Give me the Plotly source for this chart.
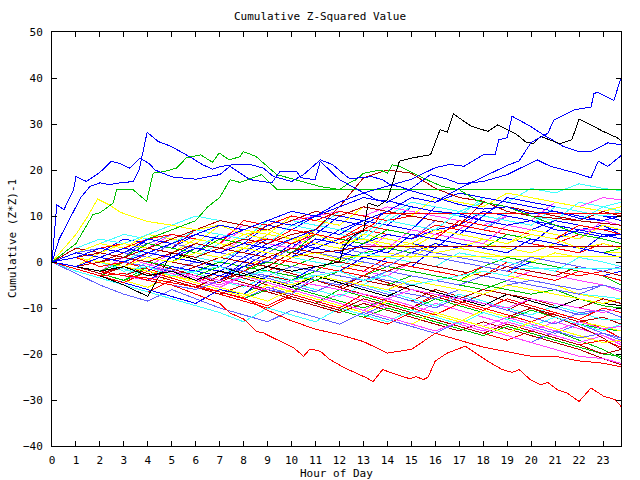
import plotly.graph_objects as go

# ---------------- data ----------------
HOURS = [0, 1, 2, 3, 4, 5, 6, 7, 8, 9, 10, 11, 12, 13, 14, 15, 16, 17, 18, 19, 20, 21, 22, 23, 23.75]
HOUR_TICKS = list(range(24))
Y_TICKS = [-40, -30, -20, -10, 0, 10, 20, 30, 40, 50]

PALETTE = {
    "red": "#ff0000", "green": "#00c000", "blue": "#0000ff", "magenta": "#ff40ff",
    "cyan": "#40ffff", "darkred": "#b00000", "yellow": "#ffff00", "black": "#000000",
    "slate": "#6060ff",
}

# background series, values at HOURS
b01_red = [0, -1.5, -3, 0, -1.5, -3, -4.5, -2, -3.5, -5, -6.5, -4, -5.5, -7, -8.5, -10, -7, -8.5, -10, -11.5, -13, -11, -12.5, -14.5, -16.5]
b02_green = [0, -1, -2.5, -4, -1, -2.5, -4, -5.5, -7, -4, -5.5, -7, -8.5, -10, -8, -9.5, -11, -12.5, -14, -12, -13.5, -15, -17, -19, -21]
b03_blue = [0, 3, 2, 1, 4, 3, 2, 6, 5, 4, 3, 7, 6, 5, 9, 8, 7, 6, 10, 9, 8, 12, 11, 10, 10]
b04_magenta = [0, -1.5, -3, -1, -2.5, -4, -5.5, -3, -4.5, -6, -7.5, -9, -7, -8.5, -10, -11.5, -9, -10.5, -12, -13.5, -15, -13, -14.5, -16, -17.5]
b05_cyan = [0, 2, 1, 0, 3, 2, 1, 4, 3, 2, 5, 4, 3, 7, 6, 5, 9, 8, 7, 11, 10, 9, 13, 12, 13]
b06_darkred = [0, -1, -2, 1, 0, -1.5, -3, -4.5, -2, -3.5, -5, -6.5, -4, -5.5, -7, -8.5, -6, -7.5, -9, -10.5, -8, -9.5, -11, -12.5, -12.5]
b07_yellow = [0, 3, 2, 1, 4, 3, 2, 5, 4, 3, 2, 5, 4, 3, 2, 1, 4, 3, 2, 1, 0, 2, 1, 0, -1]
b08_slate = [0, -1.5, -3, -4.5, -2, -3.5, -5, -6.5, -8, -5.5, -7, -8.5, -10, -11.5, -9, -10.5, -12, -13.5, -11, -12.5, -14, -15.5, -13.5, -15.5, -17]
b09_red = [0, 3, 2, 5, 4, 3, 7, 6, 5, 8, 7, 6, 10, 9, 8, 7, 6, 8, 7, 6, 5, 4, 6, 5, 4]
b10_green = [0, -1.5, -3, -1, -2.5, -4, -5.5, -3, -4.5, -6, -7.5, -9, -6, -7.5, -9, -10.5, -8, -9.5, -11, -12.5, -10.5, -12, -13.5, -14.5, -15]
b11_blue = [0, 3, 2, 5, 4, 3, 6, 5, 4, 8, 7, 6, 10, 9, 8, 12, 11, 10, 9, 8, 7, 9, 8, 7, 7]
b12_magenta = [0, 2, 1, 0, -1, 2, 1, 0, -1, -2, 1, 0, -1, -2, -3, 0, -1, -2, -3, -4, -2, -3, -4, -5, -6.5]
b13_cyan = [0, -1, -2, -3, 0, -1, -2, -3, -4, -1, -2, -3, -4, -5, -2, -3, -4, -5, -6, -4, -5, -6, -7, -7.5, -8]
b14_darkred = [0, 1, 0, -1, -2, -3, -1, -2, -3.5, -5, -6.5, -4, -5.5, -7, -8.5, -10, -7.5, -9, -10.5, -12, -10, -11.5, -13, -12, -13.5]
b15_yellow = [0, -1, -2.5, -4, -5.5, -3, -4.5, -6, -7.5, -5, -6.5, -8, -9.5, -11, -8.5, -10, -11.5, -13, -10.5, -12, -13.5, -15, -13, -14, -15]
b16_slate = [0, 2, 4, 3, 2, 1, 4, 3, 2, 6, 5, 4, 3, 7, 6, 5, 9, 8, 7, 10, 9, 8, 7, 8, 7]
b17_red = [0, -2, -3.5, -5, -6.5, -4, -5.5, -7, -8.5, -10, -7.5, -9, -10.5, -12, -13.5, -11, -12.5, -14, -15.5, -17, -15, -16.5, -18, -17, -18.5]
b18_green = [0, 2, 3, 2, 1, 0, 3, 2, 1, 0, -1, -2, 1, 0, -1, -2, -3, -4, -1, -2, -3, -4, -2, -3, -5]
b19_blue = [0, -1, -2, -3, -4, -2, -3, -4, -1, 0, 3, 2, 1, 4, 3, 2, 1, 0, -1, -2, 0, -1, -2, -3, -2]
b20_magenta = [0, 3, 5, 4, 3, 6, 5, 4, 7, 6, 5, 4, 3, 2, 6, 5, 8, 7, 11, 10, 9, 13, 12, 14, 13.5]
b21_cyan = [0, 1, 0, -1.5, -3, -1, -2.5, -4, -5.5, -3, -4.5, -6, -7.5, -5, -6.5, -8, -9.5, -7, -8.5, -10, -11.5, -9.5, -11, -12.5, -12.5]
b22_darkred = [0, -1.5, -3, -1, -2.5, -4, -5.5, -7, -5, -6.5, -8, -9.5, -11, -9, -10.5, -12, -13.5, -15, -13, -14.5, -16, -17.5, -19, -21, -22.3]
b23_yellow = [0, 2, 1, 0, 3, 2, 1, 0, -1, 1, 0, -1, -2, 0, -1, -2, -3, -4, -2, -3, -4, -5, -7, -8, -9]
b24_slate = [0, -1, -2, 1, 0, -1, -2, -3, -1, -2, -3, -4, -5, -3, -4, -5, -6.5, -8, -9.5, -7, -8.5, -10, -11.5, -10.5, -12]
b25_red = [0, 2, 3, 4, 3, 2, 1, 0, -1, -2, 1, 0, -1, -2, 1, 0, -1, -2, -3, 0, -1, -2, -3, -2, -3]
b26_green = [0, -1, -2.5, -4, -2, -3.5, -5, -6.5, -8, -6, -7.5, -9, -10.5, -12, -10, -11.5, -13, -14.5, -16, -14, -15.5, -17, -18.5, -20, -20.5]
b27_blue = [0, 3, 2, 1, 5, 4, 3, 2, 1, 0, 4, 3, 2, 1, 0, -1, 3, 7, 6, 5, 4, 3, 2, 6, 5]
b28_magenta = [0, -1.5, -3, -4.5, -2, -3.5, -5, -6.5, -8, -9.5, -7, -8.5, -10, -11.5, -13, -10.5, -12, -13.5, -15, -13, -14.5, -16, -17.5, -16, -18]
b29_cyan = [0, 2, 4, 6, 5, 4, 7, 6, 5, 9, 8, 7, 11, 10, 9, 12, 11, 10, 14, 13, 16, 15, 17, 16, 15.5]
b30_darkred = [0, 2, 3, 2, 1, 0, -1, -2, -3, -1, -2.5, -4, -5.5, -3, -4.5, -6, -7.5, -9, -7, -8.5, -10, -12, -14, -16.5, -19]
b31_yellow = [0, -1, 2, 1, 3, 5, 4, 3, 6, 5, 4, 7, 6, 5, 4, 3, 6, 5, 4, 3, 2, 4, 3, 2, 2]
b32_slate = [0, -2.5, -5, -7, -8.5, -6, -8, -10, -11.5, -13, -10.5, -12, -13.5, -11, -12.5, -14, -15.5, -13, -14.5, -16, -17.5, -15, -16.5, -15.5, -16.5]
b33_red = [0, 3, 2, 1, 4, 3, 2, 1, 0, 3, 2, 5, 4, 7, 6, 5, 8, 7, 6, 5, 4, 3, 2, 4, 3]
b34_green = [0, 1, 2, 1, 0, -1, -2, 0, -1, -2, -3, -4, -2, -3, -1, -2, -3, -4, -5, -6, -7, -6, -8, -9.5, -10]
b35_blue = [0, -1.5, -3, -4.5, -6, -7.5, -9, -6, -7, -3, -4, -1, -2, 1, 3, 2, 4, 3, 5, 4, 6, 5, 7, 8, 6]
b36_magenta = [0, 2, 4, 3, 5, 4, 6, 5, 8, 7, 9, 10, 11, 10, 12, 11, 10, 9, 8, 10, 9, 8, 7, 7, 6]
b37_cyan = [0, -2, -3.5, -5, -6.5, -8, -9.5, -11, -13, -10, -11.5, -13, -10, -11.5, -13, -10.5, -12, -13.5, -11, -12.5, -14, -12, -13.5, -15, -13.5]
b38_darkred = [0, -1, -2.5, -1, -2.5, -4, -5.5, -3, -4.5, -6, -7.5, -9, -10.5, -8, -9.5, -11, -12.5, -14, -15.5, -13.5, -15, -16.5, -18, -20, -19]
b39_yellow = [0, 2, 4, 3, 6, 5, 4, 8, 7, 6, 10, 9, 8, 12, 11, 10, 14, 13, 12, 15, 14, 13, 12, 11, 12]
b40_slate = [0, 2, 1, 0, -1, -2, -3, -1, -2, -3.5, -5, -6.5, -4, -5.5, -7, -8.5, -10, -7.5, -9, -10.5, -12, -13.5, -11, -10.5, -12]
b41_blue = [0, 2, 3, 2, 1, 0, -1, -2, 1, 4, 7, 10, 9, 8, 11, 14, 13, 15, 14, 13, 12, 11, 10, 9, 8]
b42_blue = [0, -1, -2, -3, -1, -2, -3, -4, 0, 3, 2, 4, 7, 9, 8, 7, 12, 11, 10, 14, 13, 12, 11, 10, 9]
b43_blue = [0, -1, -2, -3, -4, -1, -2, -3, -1, 2, 1, 3, 5, 4, 6, 5, 7, 8, 11, 10, 9, 8, 7, 6, 5]
b44_red = [0, -1.5, -3, -4.5, -2, -3.5, -5, -6.5, -8, -9.5, -7, -8.5, -10, -7, -8.5, -10, -11.5, -9, -10.5, -8, -9.5, -11, -12.5, -10, -11]
b45_black = [0, -1.5, -3, -5, -7.5, 2, 0.5, -1, -2.5, -4, -5.5, -3, -4.5, -6, -7.5, -5, -6.5, -8, -9.5, -7, -8.5, -10, -8, -9, -9.5]
b46_magenta = [0, -1, -2, 1, -0.5, -2, -3.5, -5, -3, -4.5, -6, -7.5, -9, -10.5, -8, -9.5, -11, -12.5, -14, -12, -13.5, -15, -13, -14.5, -14]
b47_cyan = [0, 3, 5, 4, 6, 8, 10, 9, 8, 7, 9, 8, 7, 6, 10, 13, 12, 11, 13, 12, 11, 10, 9, 12, 11]
b48_green = [0, 2, 1, 0, -1, -2, -3, -4, -2, 0, -1, 1, 0, 2, 3, 2, 1, 0, -1, 1, 0, -1, -2, -3, -4]
b49_yellow = [0, -1, -2, -3, -1, -2.5, -4, -5.5, -7, -8.5, -6, -7.5, -9, -10.5, -12, -13.5, -11, -12.5, -14, -15.5, -13, -14.5, -16, -17.5, -17]
b50_slate = [0, 2, 3, 2, 4, 6, 5, 4, 3, 2, 5, 4, 3, 2, 1, 3, 2, 1, 0, -1, 1, 0, -1, -2, -3]
b51_red = [0, 2, 1, 3, 5, 6, 5, 4, 9, 8, 10, 9, 11, 10, 9, 10, 9, 8, 7, 6, 5, 4, 6, 5, 4]
b52_magenta = [0, -1, -2, -3, -1, -2.5, -4, -5.5, -3, -4.5, -6, -7.5, -9, -10.5, -12, -13.5, -15, -13, -14.5, -16, -17.5, -19, -20.5, -21, -22]
b53_darkred = [0, 3, 2, 4, 3, 5, 7, 9, 8, 7, 9, 11, 10, 12, 11, 10, 9, 8, 13, 12, 11, 10, 9, 11, 10]
b54_slate = [0, -1, -2, -3, -4, -5, -6, -4, -5, -6, -7, -3, -4, -5, -6, -7, -8, -6, -7, -5, -4, -5, -6, -5, -6]
c01_red = [0, 1, 0, -1, 2, 1, 0, -1, -2, 1, 0, -1, -2, -3, 0, -1, -2, -3, -1, -2, -3, -4, -2, -3, -4]
c02_green = [0, -1, -2, 0, -1, -2, -3, -1, -2, -3, -4, -2, -3, -4, -5, -3, -4, -5, -6, -4, -5, -6, -7, -5, -6]
c03_blue = [0, 2, 1, 3, 2, 1, 4, 3, 2, 5, 4, 3, 2, 6, 5, 4, 3, 7, 6, 5, 4, 8, 7, 6, 6]
c04_magenta = [0, 1, 3, 2, 1, 4, 3, 2, 5, 4, 3, 6, 5, 4, 3, 7, 6, 5, 4, 8, 7, 6, 5, 9, 8]
c05_cyan = [0, 2, 1, 0, 3, 2, 1, 0, 3, 2, 1, 0, -1, 2, 1, 0, -1, 2, 1, 0, -1, -2, 1, 0, -1]
c06_darkred = [0, -1, -2, -3, -1, -2, -3, -4, -2, -3, -4, -5, -6, -4, -5, -6, -7, -8, -6, -7, -8, -9, -10, -8, -9]
c07_yellow = [0, 1, 2, 4, 3, 2, 5, 4, 3, 6, 5, 4, 3, 6, 5, 4, 7, 6, 5, 4, 7, 6, 5, 8, 7]
c08_slate = [0, -1, 1, 0, -1, -2, 0, -1, -2, -3, -1, -2, -3, -4, -2, -3, -4, -5, -3, -4, -5, -6, -7, -5, -6]
c09_red = [0, 2, 1, 3, 2, 4, 3, 6, 5, 4, 7, 6, 5, 8, 7, 6, 5, 9, 8, 7, 6, 5, 8, 7, 6]
c10_green = [0, 1, 2, 1, 4, 3, 2, 5, 4, 3, 2, 6, 5, 4, 7, 6, 5, 4, 3, 6, 5, 4, 3, 2, 3]
c11_magenta = [0, -1, -2, -3, -4, -2, -3, -4, -5, -6, -4, -5, -6, -7, -8, -6, -7, -8, -9, -10, -8, -9, -10, -11, -10]
c12_cyan = [0, 1, 3, 2, 5, 4, 3, 6, 5, 4, 8, 7, 6, 5, 9, 8, 7, 11, 10, 9, 8, 12, 11, 10, 11]
c13_blue = [0, -1, 0, -1, -2, 1, 0, -1, 3, 2, 1, 5, 4, 3, 2, 6, 5, 4, 3, 2, 5, 4, 3, 2, 1]
c14_darkred = [0, 1, 0, 2, 1, 0, -1, 1, 0, -1, 2, 1, 0, -1, -2, 0, -1, -2, -3, -1, -2, -3, -1, -2, -3]
c15_yellow = [0, -1, -2, -1, -2, -3, -4, -2, -3, -4, -5, -3, -4, -5, -6, -4, -5, -6, -7, -5, -6, -7, -8, -9, -8]
c16_slate = [0, 2, 3, 2, 1, 4, 3, 2, 1, 0, 3, 2, 1, 0, -1, 2, 1, 0, -1, -2, 1, 0, -1, -2, -1]
red_2 = [0, -1, -2, -3, -3.5, -4.5, -5.5, -6.5, -7.8, -10.5, -12.8, -14.6, -15.8, -17.3, -19.8, -19, -15.5, -17, -18.5, -19.5, -20.5, -20.5, -21.5, -22, -22.8]
darkred_hi = [0, 1, 2, 1, 3, 2, 4, 3, 5, 4, 6, 7, 12, 18.3, 20, 19.3, 16, 14, 13.2, 11, 10, 9.5, 9, 8.5, 8]

# distinctive series with their own sample hours
black_big_x = [0, 1, 2, 3, 4, 5, 6, 7, 8, 9, 10, 11, 12, 12.2, 12.6, 13, 13.2, 13.6, 14, 14.5, 15, 15.8,
               16.2, 16.5, 16.75, 17.5, 18.2, 18.6, 19.4, 19.8, 20.1, 20.4, 21.2, 21.7, 22, 22.6, 23, 23.6, 23.75]
black_big_y = [0, -1, -2, -1, -3, -2, -4, -2, -3, -1, -2, -1, 0, 3.4, 5.9, 6.7, 12.8, 12.1, 13.5, 21.9, 22.6, 23.3,
               28.8, 28.2, 32.2, 29.5, 28.4, 29.8, 27.7, 26, 25.8, 27.3, 25.7, 26.6, 31.1, 29.5, 28.4, 27, 26.3]
red_low_x = [0, 1, 2, 3, 4, 5, 6, 7, 7.43, 8, 8.54, 8.82, 9.24, 10.1, 10.5, 10.77, 11.2, 11.6, 12.2, 12.7, 13.14, 13.4,
             13.8, 14.4, 14.95, 15.2, 15.5, 15.7, 16, 16.5, 17.25, 17.6, 18.2, 18.8, 19.2, 19.5, 19.97, 20.4, 20.7,
             21.1, 21.5, 22, 22.5, 23.03, 23.5, 23.75]
red_low_y = [0, -1.5, -3, -2.5, -4, -5, -7, -9, -11.1, -12.4, -15.1, -15.4, -16.5, -18.7, -20.5, -18.9, -19.4, -21.2,
             -23, -24.1, -25.2, -26, -23.4, -24.5, -25.4, -24.9, -25.6, -25, -21.5, -19.8, -18.3, -19.5, -21.6, -23.4,
             -24, -23.4, -25.6, -26.7, -26.2, -27.8, -28.5, -30.3, -27.4, -29.2, -29.9, -31.4]
blue_a_x = [0, 1, 2, 3, 4, 5, 6, 7, 8, 9, 10, 11, 12, 13, 14, 15, 16, 17, 18, 19,
            19.5, 20, 20.7, 20.95, 21.4, 21.8, 22.5, 22.62, 22.76, 23.45, 23.75]
blue_a_y = [0, -1, 1, 0, 2, 1, 3, 2, 4, 3, 5, 7, 6, 9, 11, 14, 13, 16, 18.5, 21,
            22, 26, 28, 30.9, 32, 33.1, 33.7, 36.6, 36.9, 35.1, 40]
blue_b_x = [0, 0.3, 0.7, 1.2, 1.58, 2, 2.4, 2.83, 3.4, 3.64, 3.97, 4.43, 4.99, 5.62, 5.9, 6.3, 6.7, 7.08, 7.5, 8.27,
            8.82, 9.24, 10, 10.5, 11.2, 11.7, 12, 12.4, 13, 13.3, 13.8, 14.1, 14.5, 15, 16, 17, 18, 19, 20, 21, 22, 23, 23.75]
blue_b_y = [0, 5, 9, 14, 16.4, 17.2, 16.8, 17.2, 17.5, 20.1, 28.2, 26.2, 25.1, 23.3, 22.4, 21.1, 20.2, 20.8, 21.1, 21.2,
            20.4, 18.6, 17.5, 19, 22.2, 21.2, 20, 18.2, 18.3, 18.6, 17.9, 16.8, 16.4, 15.5, 14, 12.5, 11.5, 12, 10.5, 11, 9.5, 9, 10]
blue_c_x = [0, 1, 2, 3, 4, 5, 6, 7, 8, 9, 10, 11, 12, 13, 14, 15, 16,
            16.6, 17.2, 18, 18.5, 18.65, 19, 19.2, 19.97, 20.5, 21.35, 22, 22.5, 23.2, 23.75]
blue_c_y = [0, 1, 3, 2, 5, 4, 6, 8, 7, 9, 11, 10, 13, 15, 16.5, 18, 20.5,
            21.2, 20.8, 23.3, 23.3, 26.6, 27, 31.7, 29.5, 27.7, 25.1, 24, 24, 25.9, 25.5]
blue_d_x = [0, 1, 2, 3, 4, 5, 6, 7, 8, 9, 10, 11, 12, 13, 14, 15,
            15.8, 16.5, 17, 18, 19, 19.4, 20.25, 20.8, 21.9, 22.5, 22.8, 23.2, 23.75]
blue_d_y = [0, 2, 1, 3, 2, 4, 6, 5, 7, 9, 8, 10, 12, 14, 13, 16,
            19, 18, 17, 17.5, 19, 20, 22.2, 20.8, 19.3, 18.3, 21.9, 20.8, 23.1]
blue_e_x = [0, 0.2, 0.5, 0.9, 1, 1.44, 2, 2.48, 2.83, 3.25, 3.67, 4.08, 4.3, 5, 6, 7, 7.43, 8.27, 9.17, 9.52,
            10.2, 10.4, 10.98, 11.2, 12, 12.4, 13, 13.56, 14.1, 15, 16, 17, 18, 19, 20, 21, 22, 23, 23.75]
blue_e_y = [0, 12.4, 11.4, 15.7, 18.6, 17.5, 19.5, 21.9, 21.4, 20.4, 22.6, 21.3, 20, 18.5, 18, 19, 20.8, 17.9, 17.2, 19.7,
            19.7, 18.3, 17.9, 21.9, 17.9, 16.8, 15, 13.5, 13.2, 12, 11, 10.5, 9, 8, 9, 7, 6.5, 5.5, 6]
green_b_x = [0, 0.5, 1, 1.71, 2, 2.55, 2.7, 3.39, 3.95, 4.22, 4.7, 5.2, 5.6, 5.83, 6.2, 6.7, 6.98, 7.4, 7.85, 7.98,
             8.5, 9.38, 9.9, 11.2, 11.6, 12, 12.4, 12.7, 13, 13.7, 14, 14.2, 14.5, 15.2, 15.8, 16.3, 17, 17.7, 18, 19,
             20, 21, 22, 23, 23.75]
green_b_y = [0, 2, 4, 10.3, 10.7, 12.8, 15.7, 15.7, 13.2, 19.3, 19.7, 20.4, 22.6, 22.9, 23.3, 21.7, 23.7, 22.2, 22.9, 24,
             23, 19, 18.3, 16.4, 16.1, 15.7, 17.2, 17.9, 19.3, 20, 19.3, 21.1, 20.8, 19, 17.5, 16.4, 15.7, 13.5, 13, 12,
             10, 8, 6, 5, 4]
green_flat_x = [0, 1, 2, 3, 4, 5, 6, 6.5, 7, 7.43, 7.85, 8.75, 9.4, 23.75]
green_flat_y = [0, 1, 3, 2, 5, 7, 9, 12, 14, 17.9, 17.3, 19, 15.7, 15.7]
red_flat_x = [0, 1, 2, 3, 4, 5, 6, 7, 8, 9, 10, 11, 12, 13, 13.5, 13.7, 23.75]
red_flat_y = [0, 1, -1, 0, 2, 1, 3, 2, 4, 5, 4, 6, 5, 7, 8.5, 10.5, 10.5]
darkred_flat_x = [0, 1, 2, 3, 4, 5, 6, 7, 8, 9, 10, 11, 12, 13, 23.75]
darkred_flat_y = [0, -1, 0, 1, 0, 2, 1, 3, 2, 1, 3, 2, 2.5, 3.4, 3.4]
yellow_flat_x = [0, 1, 2, 3, 4, 5, 6, 7, 8, 9, 10, 11, 12, 12.3, 23.75]
yellow_flat_y = [0, 1, 0, -1, 1, 0, 2, 1, 3, 2, 1, 2, 0.5, 1.3, 1.3]
cyan_flat_x = [0, 1, 2, 3, 4, 5, 6, 7, 8, 9, 10, 11, 12, 13, 14, 15, 16, 17, 18, 19, 19.5, 23.75]
cyan_flat_y = [0, -1, 0, -2, -1, -3, -2, -1, -3, -2, -4, -3, -2, -4, -3, -5, -4, -3, -2, -3, -1.5, -1.5]
yellow_hi_x = [0, 0.5, 1, 1.5, 1.9, 2.4, 2.8, 3, 4, 5, 6, 7, 8, 9, 10, 11, 12, 13, 14, 15, 16, 17, 18, 19, 20, 21, 22, 23, 23.75]
yellow_hi_y = [0, 3, 6, 10, 13.7, 12.4, 11, 10.5, 8.8, 8, 7, 8, 6, 7, 5, 6, 4, 5, 3, 4, 2, 3, 5, 4, 6, 5, 3, 4, 3]

# ---------------- assemble ----------------
hourly_series = [
    ("red", b01_red), ("green", b02_green), ("blue", b03_blue), ("magenta", b04_magenta), ("cyan", b05_cyan),
    ("darkred", b06_darkred), ("yellow", b07_yellow), ("slate", b08_slate), ("red", b09_red), ("green", b10_green),
    ("blue", b11_blue), ("magenta", b12_magenta), ("cyan", b13_cyan), ("darkred", b14_darkred), ("yellow", b15_yellow),
    ("slate", b16_slate), ("red", b17_red), ("green", b18_green), ("blue", b19_blue), ("magenta", b20_magenta),
    ("cyan", b21_cyan), ("darkred", b22_darkred), ("yellow", b23_yellow), ("slate", b24_slate), ("red", b25_red),
    ("green", b26_green), ("blue", b27_blue), ("magenta", b28_magenta), ("cyan", b29_cyan), ("darkred", b30_darkred),
    ("yellow", b31_yellow), ("slate", b32_slate), ("red", b33_red), ("green", b34_green), ("blue", b35_blue),
    ("magenta", b36_magenta), ("cyan", b37_cyan), ("darkred", b38_darkred), ("yellow", b39_yellow), ("slate", b40_slate),
    ("blue", b41_blue), ("blue", b42_blue), ("blue", b43_blue), ("red", b44_red), ("black", b45_black),
    ("magenta", b46_magenta), ("cyan", b47_cyan), ("green", b48_green), ("yellow", b49_yellow), ("slate", b50_slate),
    ("red", b51_red), ("magenta", b52_magenta), ("darkred", b53_darkred), ("slate", b54_slate),
    ("red", c01_red), ("green", c02_green), ("blue", c03_blue), ("magenta", c04_magenta), ("cyan", c05_cyan),
    ("darkred", c06_darkred), ("yellow", c07_yellow), ("slate", c08_slate), ("red", c09_red), ("green", c10_green),
    ("magenta", c11_magenta), ("cyan", c12_cyan), ("blue", c13_blue), ("darkred", c14_darkred),
    ("yellow", c15_yellow), ("slate", c16_slate),
    ("red", red_2), ("darkred", darkred_hi),
]
own_series = [
    ("yellow", yellow_hi_x, yellow_hi_y), ("cyan", cyan_flat_x, cyan_flat_y),
    ("yellow", yellow_flat_x, yellow_flat_y), ("darkred", darkred_flat_x, darkred_flat_y),
    ("red", red_flat_x, red_flat_y), ("green", green_flat_x, green_flat_y),
    ("green", green_b_x, green_b_y), ("red", red_low_x, red_low_y),
    ("blue", blue_e_x, blue_e_y), ("blue", blue_d_x, blue_d_y), ("blue", blue_c_x, blue_c_y),
    ("blue", blue_b_x, blue_b_y), ("black", black_big_x, black_big_y), ("blue", blue_a_x, blue_a_y),
]

fig = go.Figure()
for color, ys in hourly_series:
    fig.add_trace(go.Scatter(x=HOURS, y=ys, mode="lines",
                             line=dict(color=PALETTE[color], width=1), hoverinfo="skip"))
for color, xs, ys in own_series:
    fig.add_trace(go.Scatter(x=xs, y=ys, mode="lines",
                             line=dict(color=PALETTE[color], width=1), hoverinfo="skip"))

FONT = dict(family="DejaVu Sans Mono", size=11, color="black")
axis_common = dict(showline=True, linecolor="black", linewidth=1, mirror="allticks",
                   ticks="inside", ticklen=5, tickwidth=1, tickcolor="black",
                   showgrid=False, zeroline=False, tickfont=FONT)

fig.update_layout(
    width=640, height=480,
    margin=dict(l=52, r=19, t=32, b=34),
    paper_bgcolor="white", plot_bgcolor="white",
    showlegend=False,
    font=FONT,
    title=dict(text="Cumulative Z-Squared Value", x=0.5, xanchor="center",
               y=1 - 16 / 480, yanchor="middle", yref="container", font=FONT),
    xaxis=dict(range=[0, 23.75], tickvals=HOUR_TICKS, ticktext=[str(h) for h in HOUR_TICKS],
               ticklabelstandoff=4, **axis_common),
    yaxis=dict(range=[-40, 50], tickvals=Y_TICKS, ticklabelstandoff=6, **axis_common),
    annotations=[
        dict(text="Hour of Day", xref="paper", yref="paper", x=0.5, y=0, yshift=-27,
             xanchor="center", yanchor="middle", showarrow=False, font=FONT),
        dict(text="Cumulative (Z*Z)-1", xref="paper", yref="paper", x=0, y=0.5, xshift=-40,
             xanchor="center", yanchor="middle", textangle=-90, showarrow=False, font=FONT),
    ],
)

CRISP_JS = ("document.querySelectorAll('.scatterlayer path').forEach("
            "function(p){p.style.shapeRendering='crispEdges';});")
fig.write_html("out.html", post_script=CRISP_JS)
